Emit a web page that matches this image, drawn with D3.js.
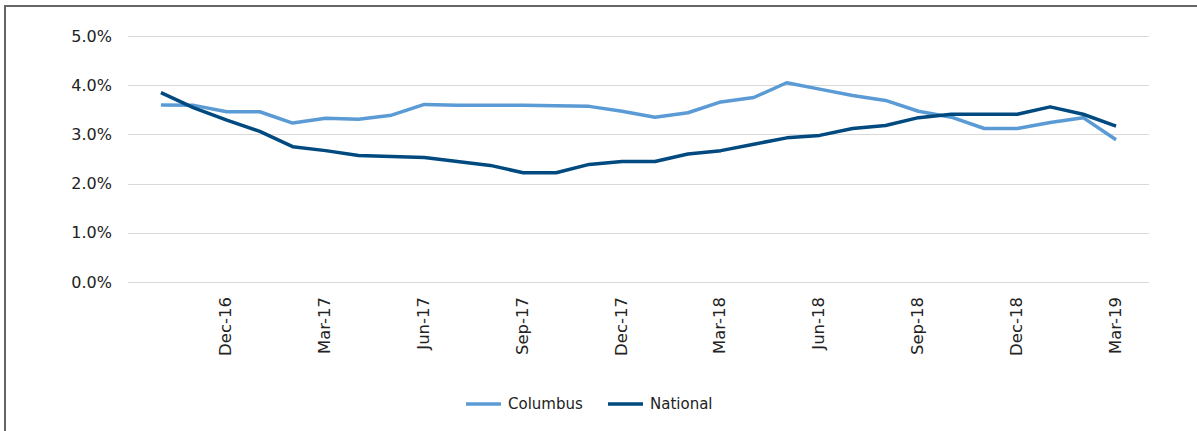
<!DOCTYPE html>
<html>
<head>
<meta charset="utf-8">
<script src="https://cdn.jsdelivr.net/npm/d3@7"></script>
<style>
	body { margin: 0; background: #fff; }
	svg { display: block; }
</style>
</head>
<body>
<div id="chart"></div>
<script>

// monthly categories, Oct-16 .. Mar-19
const months = ["Oct-16","Nov-16","Dec-16","Jan-17","Feb-17","Mar-17","Apr-17","May-17","Jun-17",
	"Jul-17","Aug-17","Sep-17","Oct-17","Nov-17","Dec-17","Jan-18","Feb-18","Mar-18","Apr-18",
	"May-18","Jun-18","Jul-18","Aug-18","Sep-18","Oct-18","Nov-18","Dec-18","Jan-19","Feb-19","Mar-19"];

const tickLabels = ["Dec-16","Mar-17","Jun-17","Sep-17","Dec-17","Mar-18","Jun-18","Sep-18","Dec-18","Mar-19"];

const yTicks = [0, 1, 2, 3, 4, 5];

const columbus = [3.60,3.59,3.46,3.46,3.23,3.33,3.31,3.39,3.61,3.59,3.59,3.59,3.58,3.57,
	3.47,3.35,3.44,3.66,3.75,4.05,3.92,3.79,3.69,3.47,3.35,3.12,3.12,3.24,3.34,2.89];

const national = [3.85,3.54,3.29,3.06,2.75,2.67,2.57,2.55,2.53,2.45,2.37,2.22,2.22,2.39,
	2.45,2.45,2.60,2.67,2.80,2.93,2.98,3.12,3.18,3.34,3.41,3.41,3.41,3.56,3.41,3.17];

const seriesNames = ["Columbus", "National"];
const seriesColors = ["#5b9bd5", "#004a80"];

const W = 1197, H = 431;
const m = {t:36, l:128, r:48, b:149};

const svg = d3.select("#chart")
			.append("svg")
			.attr("width", W)
			.attr("height", H);

// outer frame (left + top edges visible)
svg.append("path")
	.attr("d", `M5,${H} V6 H${W}`)
	.attr("fill", "none")
	.attr("stroke", "#666")
	.attr("stroke-width", 2);

const scaleX = d3.scalePoint()
				.domain(months)
				.range([m.l, W - m.r])
				.padding(1);

const scaleY = d3.scaleLinear()
				.domain([0, 5])
				.range([H - m.b, m.t]);

// gridlines
svg.append("g")
	.selectAll("line")
	.data(yTicks)
	.join("line")
	.attr("x1", m.l)
	.attr("x2", W - m.r)
	.attr("y1", d => Math.round(scaleY(d)) + 0.5)
	.attr("y2", d => Math.round(scaleY(d)) + 0.5)
	.attr("stroke", "#d9d9d9")
	.attr("stroke-width", 1.2);

const axisY = d3.axisLeft(scaleY)
				.tickValues(yTicks)
				.tickSize(0)
				.tickPadding(16)
				.tickFormat(d => d.toFixed(1) + "%");

svg.append("g")
	.attr("transform", `translate(${m.l},0)`)
	.call(axisY)
	.call(g => g.select(".domain").remove())
	.selectAll("text")
	.style("font-family", "DejaVu Sans, sans-serif")
	.style("font-size", "16px")
	.attr("fill", "#222");

const axisX = d3.axisBottom(scaleX)
				.tickValues(tickLabels)
				.tickSize(0);

svg.append("g")
	.attr("transform", `translate(0,${scaleY(0)})`)
	.call(axisX)
	.call(g => g.select(".domain").remove())
	.selectAll("text")
	.attr("transform", "rotate(-90)")
	.attr("text-anchor", "end")
	.attr("x", -15)
	.attr("y", 0)
	.attr("dy", "0.25em")
	.style("font-family", "DejaVu Sans, sans-serif")
	.style("font-size", "16.5px")
	.attr("fill", "#222");

const lineGenerator = d3.line()
						.x((d, i) => scaleX(months[i]))
						.y(d => scaleY(d));

const allSeries = [columbus, national];

svg.append("g")
	.selectAll("path")
	.data(allSeries)
	.join("path")
	.attr("d", d => lineGenerator(d))
	.attr("fill", "none")
	.attr("stroke", (d, i) => seriesColors[i])
	.attr("stroke-width", 3.5)
	.attr("stroke-linejoin", "round");

// legend
const legend = svg.append("g")
				.attr("transform", "translate(466,404)");

const legendX = [0, 142];

const item = legend.selectAll("g")
				.data(seriesNames)
				.join("g")
				.attr("transform", (d, i) => `translate(${legendX[i]},0)`);

item.append("line")
	.attr("x1", 0)
	.attr("x2", 35)
	.attr("stroke", (d, i) => seriesColors[i])
	.attr("stroke-width", 3.5);

item.append("text")
	.attr("x", 42)
	.attr("dy", "0.35em")
	.style("font-family", "DejaVu Sans, sans-serif")
	.style("font-size", "15px")
	.attr("fill", "#222")
	.text(d => d);

</script>
</body>
</html>
